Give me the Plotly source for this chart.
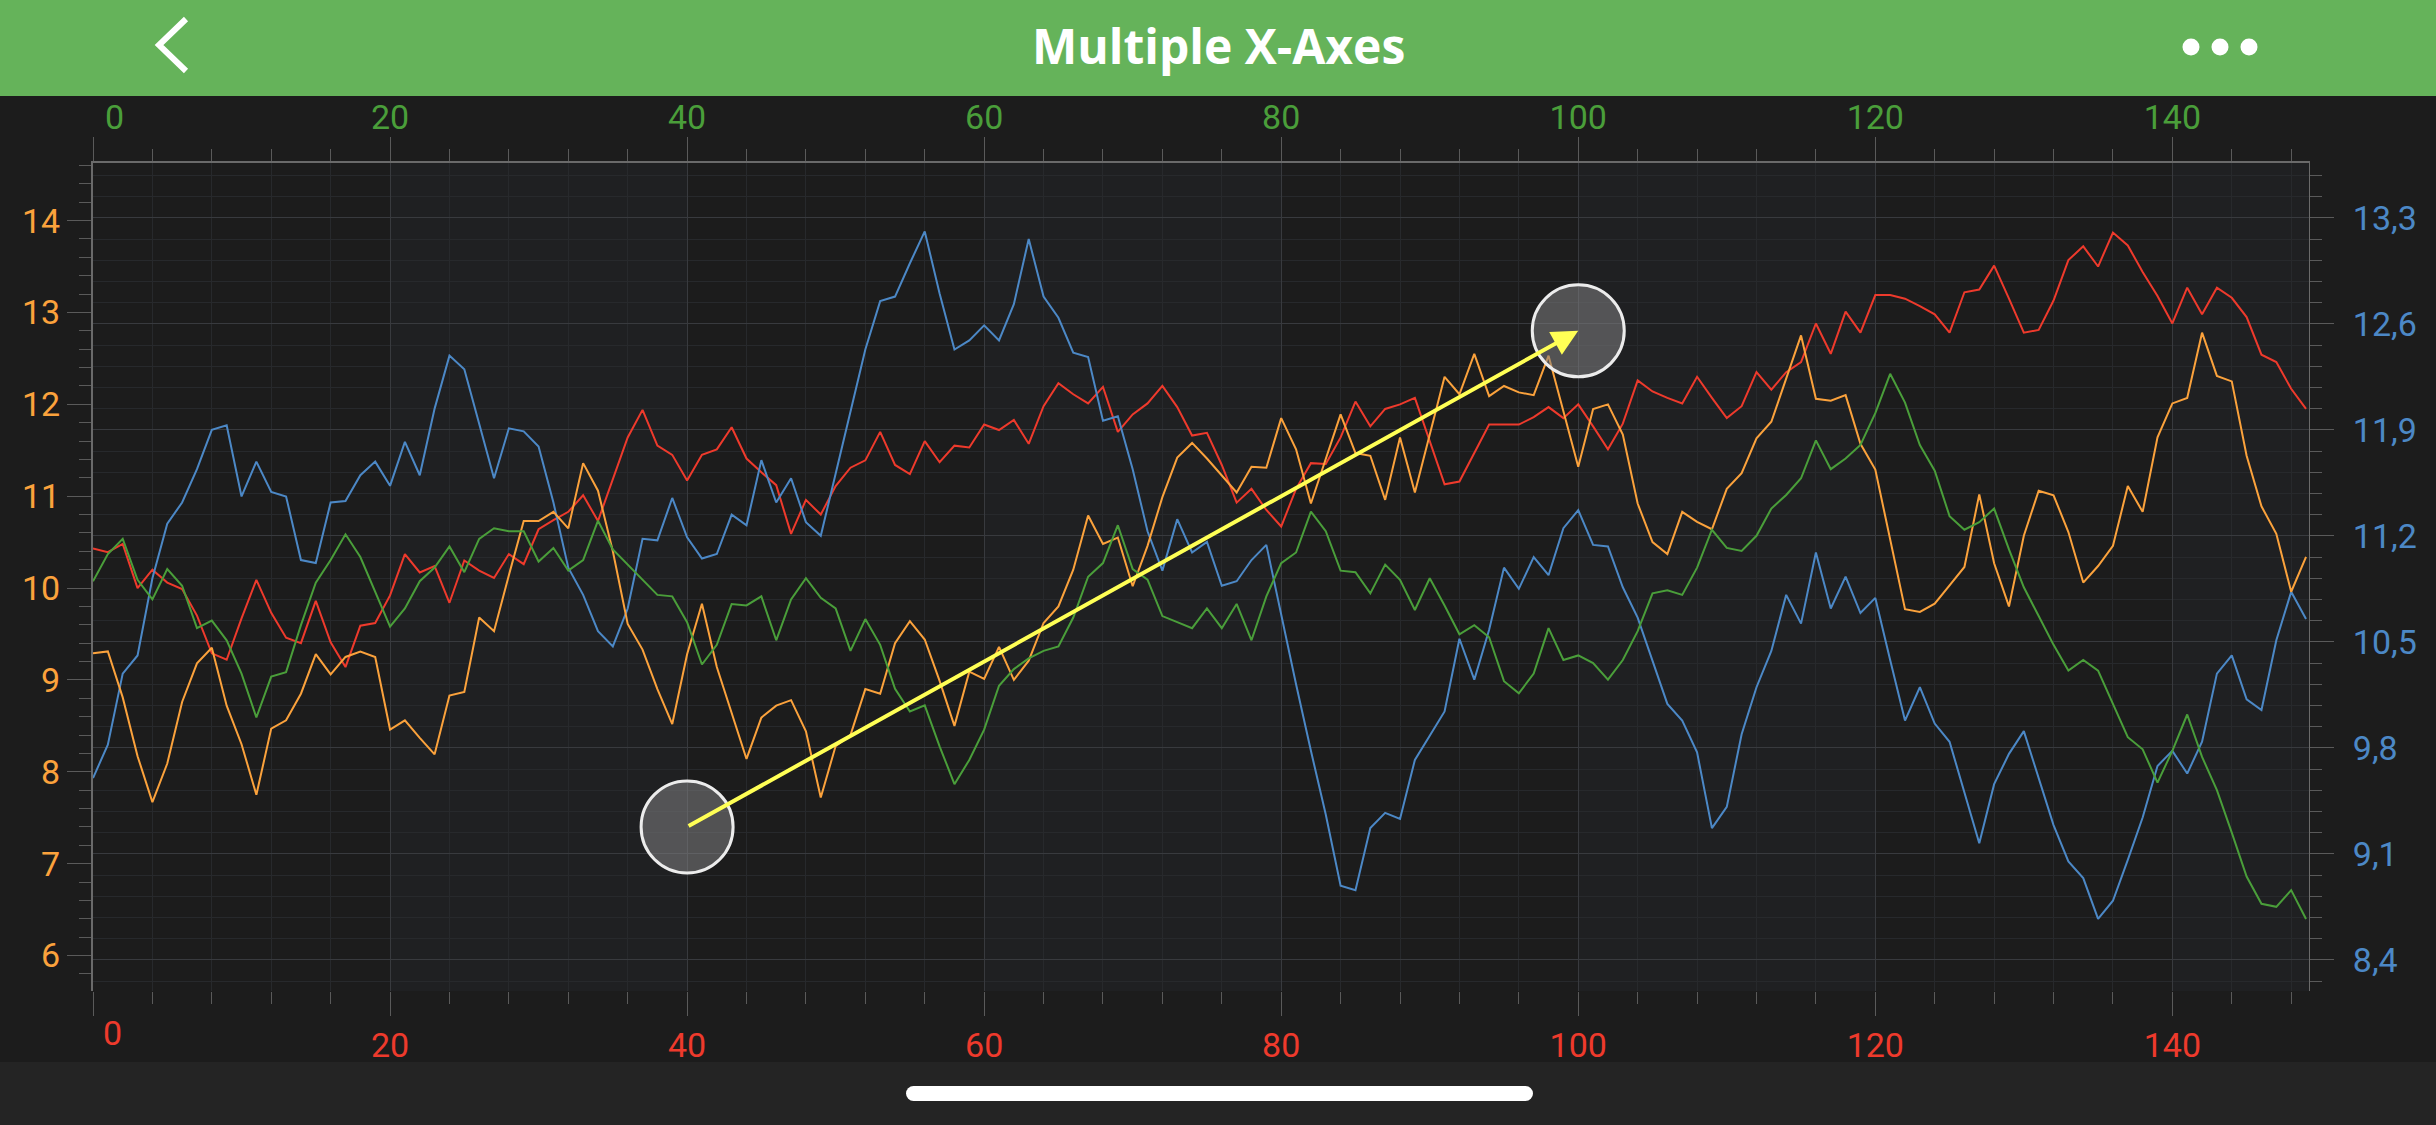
import plotly.graph_objects as go

W, H = 2436, 1125

# ---------------- data ----------------
x_vals = list(range(150))

red = [10.43, 10.39, 10.48, 10.00, 10.20, 10.06, 9.99, 9.70, 9.29, 9.22,
       9.67, 10.09, 9.73, 9.46, 9.40, 9.86, 9.41, 9.14, 9.59, 9.62,
       9.92, 10.37, 10.17, 10.24, 9.84, 10.30, 10.19, 10.11, 10.37, 10.26,
       10.64, 10.74, 10.83, 11.01, 10.73, 11.19, 11.64, 11.94, 11.55, 11.45,
       11.17, 11.45, 11.51, 11.75, 11.41, 11.26, 11.12, 10.59, 10.96, 10.80,
       11.11, 11.31, 11.39, 11.70, 11.34, 11.24, 11.60, 11.37, 11.55, 11.53,
       11.78, 11.72, 11.83, 11.57, 11.98, 12.23, 12.11, 12.01, 12.19, 11.70,
       11.89, 12.01, 12.20, 11.97, 11.66, 11.69, 11.34, 10.93, 11.08, 10.85,
       10.67, 11.08, 11.36, 11.35, 11.64, 12.03, 11.76, 11.95, 12.00, 12.07,
       11.61, 11.13, 11.16, 11.47, 11.78, 11.78, 11.78, 11.86, 11.97, 11.85,
       12.00, 11.76, 11.51, 11.79, 12.26, 12.14, 12.07, 12.01, 12.30, 12.07,
       11.85, 11.98, 12.35, 12.16, 12.35, 12.46, 12.88, 12.55, 13.01, 12.78,
       13.19, 13.19, 13.15, 13.07, 12.98, 12.78, 13.22, 13.25, 13.51, 13.15,
       12.78, 12.81, 13.13, 13.57, 13.72, 13.50, 13.87, 13.73, 13.44, 13.18,
       12.88, 13.27, 12.98, 13.27, 13.16, 12.95, 12.54, 12.46, 12.17, 11.95]

orange = [9.29, 9.31, 8.81, 8.17, 7.67, 8.09, 8.76, 9.18, 9.35, 8.72,
          8.30, 7.75, 8.47, 8.56, 8.85, 9.28, 9.06, 9.25, 9.31, 9.25,
          8.46, 8.56, 8.37, 8.19, 8.83, 8.87, 9.68, 9.53, 10.14, 10.73,
          10.73, 10.83, 10.65, 11.36, 11.06, 10.40, 9.61, 9.33, 8.90, 8.52,
          9.28, 9.83, 9.14, 8.63, 8.14, 8.59, 8.72, 8.78, 8.44, 7.72,
          8.28, 8.40, 8.90, 8.85, 9.40, 9.64, 9.44, 8.99, 8.50, 9.09,
          9.01, 9.36, 9.00, 9.21, 9.62, 9.80, 10.20, 10.79, 10.48, 10.55,
          10.02, 10.46, 10.99, 11.42, 11.58, 11.41, 11.23, 11.04, 11.32, 11.31,
          11.85, 11.51, 10.92, 11.41, 11.89, 11.47, 11.44, 10.96, 11.64, 11.04,
          11.67, 12.30, 12.11, 12.55, 12.09, 12.20, 12.13, 12.10, 12.53, 11.93,
          11.32, 11.95, 12.00, 11.67, 10.92, 10.50, 10.37, 10.83, 10.72, 10.64,
          11.08, 11.25, 11.63, 11.81, 12.29, 12.75, 12.06, 12.04, 12.10, 11.57,
          11.29, 10.53, 9.77, 9.74, 9.83, 10.03, 10.23, 11.02, 10.27, 9.80,
          10.57, 11.06, 11.01, 10.61, 10.06, 10.24, 10.46, 11.11, 10.83, 11.64,
          12.01, 12.07, 12.78, 12.31, 12.25, 11.44, 10.89, 10.59, 9.96, 10.34]

green = [10.90, 11.08, 11.18, 10.91, 10.78, 10.98, 10.87, 10.59, 10.64, 10.51,
         10.29, 10.00, 10.27, 10.30, 10.61, 10.89, 11.04, 11.21, 11.06, 10.83,
         10.60, 10.72, 10.90, 10.99, 11.13, 10.96, 11.18, 11.25, 11.23, 11.23,
         11.03, 11.12, 10.97, 11.04, 11.30, 11.11, 11.01, 10.91, 10.81, 10.80,
         10.63, 10.35, 10.48, 10.75, 10.74, 10.80, 10.51, 10.78, 10.92, 10.79,
         10.72, 10.44, 10.65, 10.48, 10.19, 10.04, 10.08, 9.81, 9.56, 9.72,
         9.92, 10.21, 10.32, 10.39, 10.44, 10.47, 10.66, 10.93, 11.02, 11.27,
         10.98, 10.91, 10.67, 10.63, 10.59, 10.72, 10.59, 10.75, 10.51, 10.80,
         11.02, 11.09, 11.36, 11.23, 10.97, 10.96, 10.82, 11.01, 10.91, 10.71,
         10.92, 10.74, 10.55, 10.61, 10.53, 10.24, 10.16, 10.29, 10.59, 10.38,
         10.41, 10.36, 10.25, 10.38, 10.57, 10.82, 10.84, 10.81, 10.99, 11.24,
         11.12, 11.10, 11.20, 11.38, 11.47, 11.58, 11.83, 11.64, 11.71, 11.80,
         12.01, 12.27, 12.08, 11.80, 11.63, 11.33, 11.24, 11.29, 11.38, 11.11,
         10.86, 10.67, 10.48, 10.31, 10.38, 10.31, 10.09, 9.87, 9.79, 9.57,
         9.78, 10.02, 9.74, 9.52, 9.24, 8.95, 8.77, 8.75, 8.86, 8.67]

blue = [9.60, 9.82, 10.29, 10.41, 10.92, 11.28, 11.42, 11.64, 11.90, 11.93,
        11.46, 11.69, 11.49, 11.46, 11.04, 11.02, 11.42, 11.43, 11.60, 11.69,
        11.53, 11.82, 11.60, 12.04, 12.39, 12.30, 11.94, 11.58, 11.91, 11.89,
        11.79, 11.42, 10.99, 10.81, 10.57, 10.47, 10.72, 11.18, 11.17, 11.45,
        11.19, 11.05, 11.08, 11.34, 11.27, 11.70, 11.42, 11.58, 11.29, 11.20,
        11.61, 12.03, 12.43, 12.75, 12.78, 13.00, 13.21, 12.80, 12.43, 12.49,
        12.59, 12.49, 12.73, 13.16, 12.78, 12.64, 12.41, 12.38, 11.96, 11.99,
        11.64, 11.23, 10.97, 11.31, 11.09, 11.16, 10.87, 10.90, 11.04, 11.14,
        10.67, 10.22, 9.78, 9.36, 8.89, 8.86, 9.27, 9.37, 9.33, 9.72,
        9.88, 10.04, 10.52, 10.25, 10.58, 10.99, 10.85, 11.06, 10.94, 11.25,
        11.37, 11.14, 11.13, 10.86, 10.66, 10.38, 10.09, 9.98, 9.77, 9.27,
        9.41, 9.89, 10.20, 10.44, 10.81, 10.62, 11.09, 10.72, 10.93, 10.69,
        10.79, 10.38, 9.98, 10.20, 9.96, 9.84, 9.51, 9.17, 9.56, 9.76,
        9.91, 9.60, 9.29, 9.05, 8.94, 8.67, 8.79, 9.06, 9.34, 9.68,
        9.78, 9.63, 9.84, 10.29, 10.41, 10.12, 10.05, 10.51, 10.83, 10.65]

x_tick_vals = [0, 20, 40, 60, 80, 100, 120, 140]
x_tick_text = ["0", "20", "40", "60", "80", "100", "120", "140"]

x_range = [0, 149.2]
left_range = [5.614, 14.627]
right_range = [8.194, 13.662]

x_band_starts = [20, 60, 100, 140]
arrow_start = (40, 7.4)
arrow_end = (100, 12.8)
title_text = "Multiple X-Axes"

# ---------------- styles ----------------
RED = "#EE3A2C"
GREEN = "#4A9E3A"
ORANGE = "#FBA23C"
BLUE = "#4C88C6"
BG = "#1c1c1c"
BAND = "#1f2022"
MAJOR_GRID = "#383a3e"
MINOR_GRID = "#27292c"
TICK = "#5a5a5a"
AXLINE = "#6a6a6a"
FONT = "Roboto"
TSIZE = 34

L, R, T, B = 93, 2309, 163, 991
xdom = [L / W, R / W]
ydom = [(H - B) / H, (H - T) / H]


def px(x):
    return x / W


def py(y):
    return (H - y) / H


fig = go.Figure()
fig.add_trace(go.Scatter(x=x_vals, y=red, mode="lines", xaxis="x", yaxis="y",
                         line=dict(color=RED, width=2), showlegend=False))
fig.add_trace(go.Scatter(x=x_vals, y=orange, mode="lines", xaxis="x2", yaxis="y",
                         line=dict(color=ORANGE, width=2), showlegend=False))
fig.add_trace(go.Scatter(x=x_vals, y=green, mode="lines", xaxis="x2", yaxis="y2",
                         line=dict(color=GREEN, width=2), showlegend=False))
fig.add_trace(go.Scatter(x=x_vals, y=blue, mode="lines", xaxis="x", yaxis="y2",
                         line=dict(color=BLUE, width=2), showlegend=False))

# first label ("0") is drawn separately, nudged inside the axis like the original
shown_text = [""] + x_tick_text[1:]

common_x = dict(range=x_range, domain=xdom, tickmode="array", tickvals=x_tick_vals,
                ticktext=shown_text,
                ticks="outside", ticklen=24, tickwidth=1, tickcolor=TICK,
                zeroline=False, fixedrange=True)

fig.update_layout(
    width=W, height=H,
    margin=dict(l=0, r=0, t=0, b=0, autoexpand=False),
    paper_bgcolor=BG, plot_bgcolor=BG,
    separators=",.",
    showlegend=False,
    xaxis=dict(**common_x, anchor="y", side="bottom",
               showgrid=True, gridcolor=MAJOR_GRID, gridwidth=1,
               showline=False,
               tickfont=dict(family=FONT, size=TSIZE, color=RED),
               minor=dict(tickmode="linear", tick0=0, dtick=4, ticks="outside", ticklen=12,
                          tickcolor=TICK, showgrid=True, gridcolor=MINOR_GRID, gridwidth=1)),
    xaxis2=dict(**common_x, anchor="y", side="top", overlaying="x",
                showgrid=False, showline=True, linecolor=AXLINE, linewidth=2,
                ticklabelstandoff=-6,
                tickfont=dict(family=FONT, size=TSIZE, color=GREEN),
                minor=dict(tickmode="linear", tick0=0, dtick=4, ticks="outside", ticklen=12,
                           tickcolor=TICK, showgrid=False)),
    yaxis=dict(range=left_range, domain=ydom, anchor="x", side="left",
               tickmode="linear", tick0=6, dtick=1,
               ticks="outside", ticklen=24, tickwidth=1, tickcolor=TICK,
               showgrid=False, zeroline=False, showline=True, linecolor=AXLINE, linewidth=2,
               tickfont=dict(family=FONT, size=TSIZE, color=ORANGE),
               minor=dict(dtick=0.2, ticks="outside", ticklen=12, tickcolor=TICK, showgrid=False),
               fixedrange=True),
    yaxis2=dict(range=right_range, anchor="x", side="right", overlaying="y",
                tickmode="linear", tick0=8.4, dtick=0.7, tickformat=".1f",
                ticks="outside", ticklen=24, tickwidth=1, tickcolor=TICK,
                ticklabelstandoff=12,
                showgrid=True, gridcolor=MAJOR_GRID, gridwidth=1,
                zeroline=False, showline=True, linecolor=AXLINE, linewidth=1,
                tickfont=dict(family=FONT, size=TSIZE, color=BLUE),
                minor=dict(tick0=8.4, dtick=0.14, ticks="outside", ticklen=12, tickcolor=TICK,
                           showgrid=True, gridcolor=MINOR_GRID, gridwidth=1),
                fixedrange=True),
)

shapes = []
# alternating x bands
for s in x_band_starts:
    shapes.append(dict(type="rect", xref="x", yref="y domain", x0=s, x1=min(s + 20, x_range[1]),
                       y0=0, y1=1, fillcolor=BAND, line=dict(width=0), layer="below"))
# header bar
shapes.append(dict(type="rect", xref="paper", yref="paper", x0=0, x1=1, y0=py(96), y1=1,
                   fillcolor="#65b35a", line=dict(width=0), layer="above"))
# back chevron
shapes.append(dict(type="path", xref="paper", yref="paper",
                   path=f"M {px(186)} {py(19)} L {px(159)} {py(45)} L {px(186)} {py(71)}",
                   line=dict(color="white", width=6), layer="above"))
# dots
for cx in [2191, 2220, 2249]:
    shapes.append(dict(type="circle", xref="paper", yref="paper",
                       x0=px(cx - 8.5), x1=px(cx + 8.5), y0=py(47 + 8.5), y1=py(47 - 8.5),
                       fillcolor="white", line=dict(width=0), layer="above"))
# bottom bar and home indicator
shapes.append(dict(type="rect", xref="paper", yref="paper", x0=0, x1=1, y0=0, y1=py(1062),
                   fillcolor="#242424", line=dict(width=0), layer="above"))
shapes.append(dict(type="rect", xref="paper", yref="paper", x0=px(913.5), x1=px(1525.5),
                   y0=py(1101), y1=py(1086), fillcolor="white", line=dict(width=0), layer="above"))
for cx in [913.5, 1525.5]:
    shapes.append(dict(type="circle", xref="paper", yref="paper",
                       x0=px(cx - 7.5), x1=px(cx + 7.5), y0=py(1101), y1=py(1086),
                       fillcolor="white", line=dict(width=0), layer="above"))
# annotation circles
for (cx, cy) in [arrow_start, arrow_end]:
    shapes.append(dict(type="circle", xref="x", yref="y",
                       xsizemode="pixel", ysizemode="pixel", xanchor=cx, yanchor=cy,
                       x0=-46, x1=46, y0=-46, y1=46,
                       fillcolor="rgba(128,128,130,0.55)",
                       line=dict(color="#ececec", width=3), layer="above"))
fig.update_layout(shapes=shapes)

fig.add_annotation(x=arrow_end[0], y=arrow_end[1], xref="x", yref="y",
                   ax=arrow_start[0], ay=arrow_start[1], axref="x", ayref="y",
                   text="", showarrow=True, arrowhead=2, arrowsize=1.3, arrowwidth=4,
                   arrowcolor="#ffff55", standoff=0, startstandoff=0)
# the "0" labels of both x axes
fig.add_annotation(x=x_tick_vals[0], y=py(1033), xref="x", yref="paper", xshift=19,
                   text=x_tick_text[0], showarrow=False, yanchor="middle",
                   font=dict(family=FONT, size=TSIZE, color=RED))
fig.add_annotation(x=x_tick_vals[0], y=py(117), xref="x", yref="paper", xshift=21,
                   text=x_tick_text[0], showarrow=False, yanchor="middle",
                   font=dict(family=FONT, size=TSIZE, color=GREEN))
fig.add_annotation(x=0.5, y=py(46), xref="paper", yref="paper", showarrow=False,
                   text=f"<b>{title_text}</b>", yanchor="middle",
                   font=dict(family="Open Sans", size=48, color="white"))

fig.write_html("out.html")
